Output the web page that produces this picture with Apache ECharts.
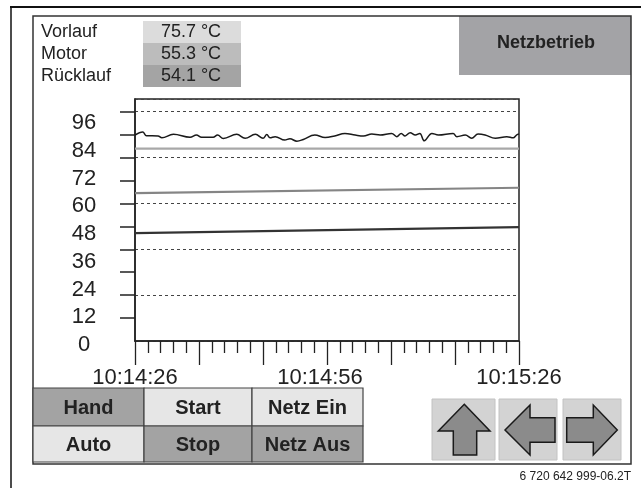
<!DOCTYPE html>
<html>
<head>
<meta charset="utf-8">
<script src="https://cdn.jsdelivr.net/npm/echarts@6/dist/echarts.min.js"></script>
<style>
html,body{margin:0;padding:0;background:#fff;}
#chart{width:641px;height:488px;}
</style>
</head>
<body>
<div id="chart"></div>
<script>
// ---- data ----
const timeLabels = ['10:14:26', '10:14:56', '10:15:26'];
const yTickLabels = [0, 12, 24, 36, 48, 60, 72, 84, 96];
const tempNames = ['Vorlauf', 'Motor', 'Rücklauf'];
const tempValues = [75.7, 55.3, 54.1];
const statusText = 'Netzbetrieb';
const buttonRow1 = ['Hand', 'Start', 'Netz Ein'];
const buttonRow2 = ['Auto', 'Stop', 'Netz Aus'];
const footerText = '6 720 642 999-06.2T';

// seconds since 10:14:26, value
const wavyLine = [
  [0, 90.8], [1.2, 92.1], [1.8, 90.5], [3.6, 90.4], [4.2, 89.6], [6.0, 91.1],
  [8.6, 89.8], [9.6, 90.8], [10.4, 89.8], [12.2, 89.8], [12.9, 90.8], [13.8, 89.3],
  [15.9, 91.1], [17.2, 89.4], [18.8, 91.1], [20.0, 89.4], [20.6, 91.0], [21.1, 89.6],
  [21.9, 90.1], [23.4, 88.6], [24.2, 89.2], [25.3, 88.1], [26.3, 88.9], [28.1, 90.8],
  [29.7, 89.7], [31.2, 90.4], [32.8, 91.5], [34.4, 90.8], [35.7, 90.4], [37.0, 91.2],
  [38.3, 90.8], [40.1, 91.5], [40.9, 90.1], [41.6, 91.5], [42.2, 90.4], [43.0, 91.8],
  [43.8, 90.8], [44.5, 91.5], [45.2, 88.3], [46.4, 91.5], [47.4, 90.8], [49.7, 91.5],
  [50.3, 90.1], [51.6, 90.8], [52.6, 89.4], [53.6, 91.2], [54.7, 90.8], [56.3, 89.4],
  [58.1, 90.1], [59.1, 89.6], [59.6, 90.8], [60, 91.2]
];
const vorlaufLine = [[0, 84.9], [60, 84.9]];
const motorLine = [[0, 65.7], [60, 68.0]];
const ruecklaufLine = [[0, 48.4], [60, 51.0]];

// ---- chart ----
const FONT = "'Liberation Sans', Arial, sans-serif";
const chart = echarts.init(document.getElementById('chart'), null, {renderer: 'canvas'});

const graphics = [];
// outer frame
graphics.push({type: 'line', shape: {x1: 10, y1: 7, x2: 641, y2: 7}, style: {stroke: '#111', lineWidth: 2}});
graphics.push({type: 'line', shape: {x1: 11, y1: 7, x2: 11, y2: 488}, style: {stroke: '#111', lineWidth: 1.5}});
// status box
graphics.push({type: 'rect', shape: {x: 459, y: 16, width: 172, height: 59}, style: {fill: '#a3a3a6'}});
graphics.push({type: 'text', x: 546, y: 43, style: {text: statusText, font: 'bold 18px ' + FONT, fill: '#222', align: 'center', verticalAlign: 'middle'}});
// inner frame
graphics.push({type: 'rect', shape: {x: 33, y: 16, width: 598, height: 448}, style: {fill: 'none', stroke: '#333', lineWidth: 1.5}});
// temperature table
const cellColors = ['#dcdcdc', '#bcbcbc', '#a4a4a4'];
tempNames.forEach((n, i) => {
  const y0 = 21 + i * 22;
  graphics.push({type: 'rect', shape: {x: 143, y: y0, width: 98, height: 22}, style: {fill: cellColors[i]}});
  graphics.push({type: 'text', x: 41, y: y0 + 11.5, style: {text: n, font: '18px ' + FONT, fill: '#222', verticalAlign: 'middle'}});
  graphics.push({type: 'text', x: 191, y: y0 + 11.5, style: {text: tempValues[i].toFixed(1) + ' °C', font: '18px ' + FONT, fill: '#222', align: 'center', verticalAlign: 'middle'}});
});
// buttons
const bx = [33, 144, 252, 363];
const by = [388, 426, 462];
const rows = [buttonRow1, buttonRow2];
const btnColors = [['#a3a3a3', '#e6e6e6', '#e6e6e6'], ['#e6e6e6', '#a3a3a3', '#a3a3a3']];
rows.forEach((row, r) => {
  row.forEach((label, c) => {
    graphics.push({type: 'rect', shape: {x: bx[c], y: by[r], width: bx[c + 1] - bx[c], height: by[r + 1] - by[r]}, style: {fill: btnColors[r][c], stroke: '#444', lineWidth: 1.2}});
    graphics.push({type: 'text', x: (bx[c] + bx[c + 1]) / 2, y: (by[r] + by[r + 1]) / 2 + 1, style: {text: label, font: 'bold 20px ' + FONT, fill: '#222', align: 'center', verticalAlign: 'middle'}});
  });
});
// arrow buttons
[[432, 63], [499, 58], [563, 58]].forEach(b => {
  graphics.push({type: 'rect', shape: {x: b[0], y: 399, width: b[1], height: 61}, style: {fill: '#d3d3d3', stroke: '#c2c2c2', lineWidth: 1}});
});
const arrowStyle = {fill: '#8b8b8b', stroke: '#1a1a1a', lineWidth: 1.5};
graphics.push({type: 'polygon', shape: {points: [[464.3, 404.3], [490, 431], [476.7, 431], [476.7, 455], [453.3, 455], [453.3, 431], [438.3, 431]]}, style: arrowStyle});
graphics.push({type: 'polygon', shape: {points: [[505, 430], [530, 405], [530, 417.7], [555, 417.7], [555, 442.3], [530, 442.3], [530, 455]]}, style: arrowStyle});
graphics.push({type: 'polygon', shape: {points: [[617.3, 430], [593.3, 405], [593.3, 417.7], [566.7, 417.7], [566.7, 442.3], [593.3, 442.3], [593.3, 455]]}, style: arrowStyle});
// footer
graphics.push({type: 'text', x: 631, y: 477, style: {text: footerText, font: '12px ' + FONT, fill: '#222', align: 'right', verticalAlign: 'middle'}});

const option = {
  animation: false,
  backgroundColor: '#fff',
  textStyle: {fontFamily: FONT},
  graphic: graphics,
  grid: [
    {left: 135, right: 122, top: 99, bottom: 147, show: true, borderColor: '#222', borderWidth: 1.5, backgroundColor: 'transparent'},
    {left: 135, right: 122, top: 123, bottom: 143}
  ],
  xAxis: [
    {
      type: 'value', gridIndex: 0, min: 0, max: 60, interval: 10,
      axisLine: {show: true, lineStyle: {color: '#222', width: 1.5}},
      axisTick: {show: true, length: 24, lineStyle: {color: '#222', width: 1.3}},
      minorTick: {show: true, splitNumber: 5, length: 12, lineStyle: {color: '#222', width: 1.3}},
      splitLine: {show: false},
      axisLabel: {
        margin: 26, fontSize: 22, color: '#222', fontFamily: FONT,
        formatter: v => {
          if (v % 30 !== 0) return '';
          const t = timeLabels[v / 30];
          return v === 30 ? '{m|' + t + '}' : t;
        },
        rich: {m: {fontSize: 22, color: '#222', fontFamily: FONT, padding: [0, 14, 0, 0]}}
      }
    },
    {type: 'value', gridIndex: 1, min: 0, max: 60, show: false}
  ],
  yAxis: [
    {
      type: 'value', gridIndex: 0, min: 0, max: 242 / 22.93, interval: 1, position: 'left',
      axisLine: {show: true, lineStyle: {color: '#222', width: 1.5}},
      axisTick: {show: true, length: 15, lineStyle: {color: '#222', width: 1.5}, customValues: [1, 2, 3, 4, 5, 6, 7, 8, 9, 10]},
      axisLabel: {show: false},
      splitLine: {show: false}
    },
    {
      type: 'value', gridIndex: 0, min: 0, max: 242 / 45.9, interval: 1, position: 'left', offset: 0,
      axisLine: {show: false}, axisTick: {show: false}, axisLabel: {show: false},
      splitLine: {show: true, lineStyle: {color: '#444', width: 1, type: [3, 3]}}
    },
    {
      type: 'value', gridIndex: 1, min: 0, max: 96, interval: 12, position: 'left',
      axisLine: {show: false}, axisTick: {show: false}, splitLine: {show: false},
      axisLabel: {
        show: true, fontSize: 22, color: '#222', align: 'center', margin: 51, fontFamily: FONT,
        formatter: v => (yTickLabels.indexOf(v) >= 0 ? String(v) : '')
      }
    }
  ],
  series: [
    {name: 'Verlauf', type: 'line', xAxisIndex: 1, yAxisIndex: 2, data: wavyLine, smooth: 0.4, showSymbol: false, clip: false,
     lineStyle: {color: '#1a1a1a', width: 1.5}},
    {name: 'Vorlauf', type: 'line', xAxisIndex: 1, yAxisIndex: 2, data: vorlaufLine, showSymbol: false, clip: false,
     lineStyle: {color: '#a8a8a8', width: 2.2}},
    {name: 'Motor', type: 'line', xAxisIndex: 1, yAxisIndex: 2, data: motorLine, showSymbol: false, clip: false,
     lineStyle: {color: '#858585', width: 2.2}},
    {name: 'Rücklauf', type: 'line', xAxisIndex: 1, yAxisIndex: 2, data: ruecklaufLine, showSymbol: false, clip: false,
     lineStyle: {color: '#333333', width: 2.2}}
  ]
};
chart.setOption(option);
</script>
</body>
</html>
